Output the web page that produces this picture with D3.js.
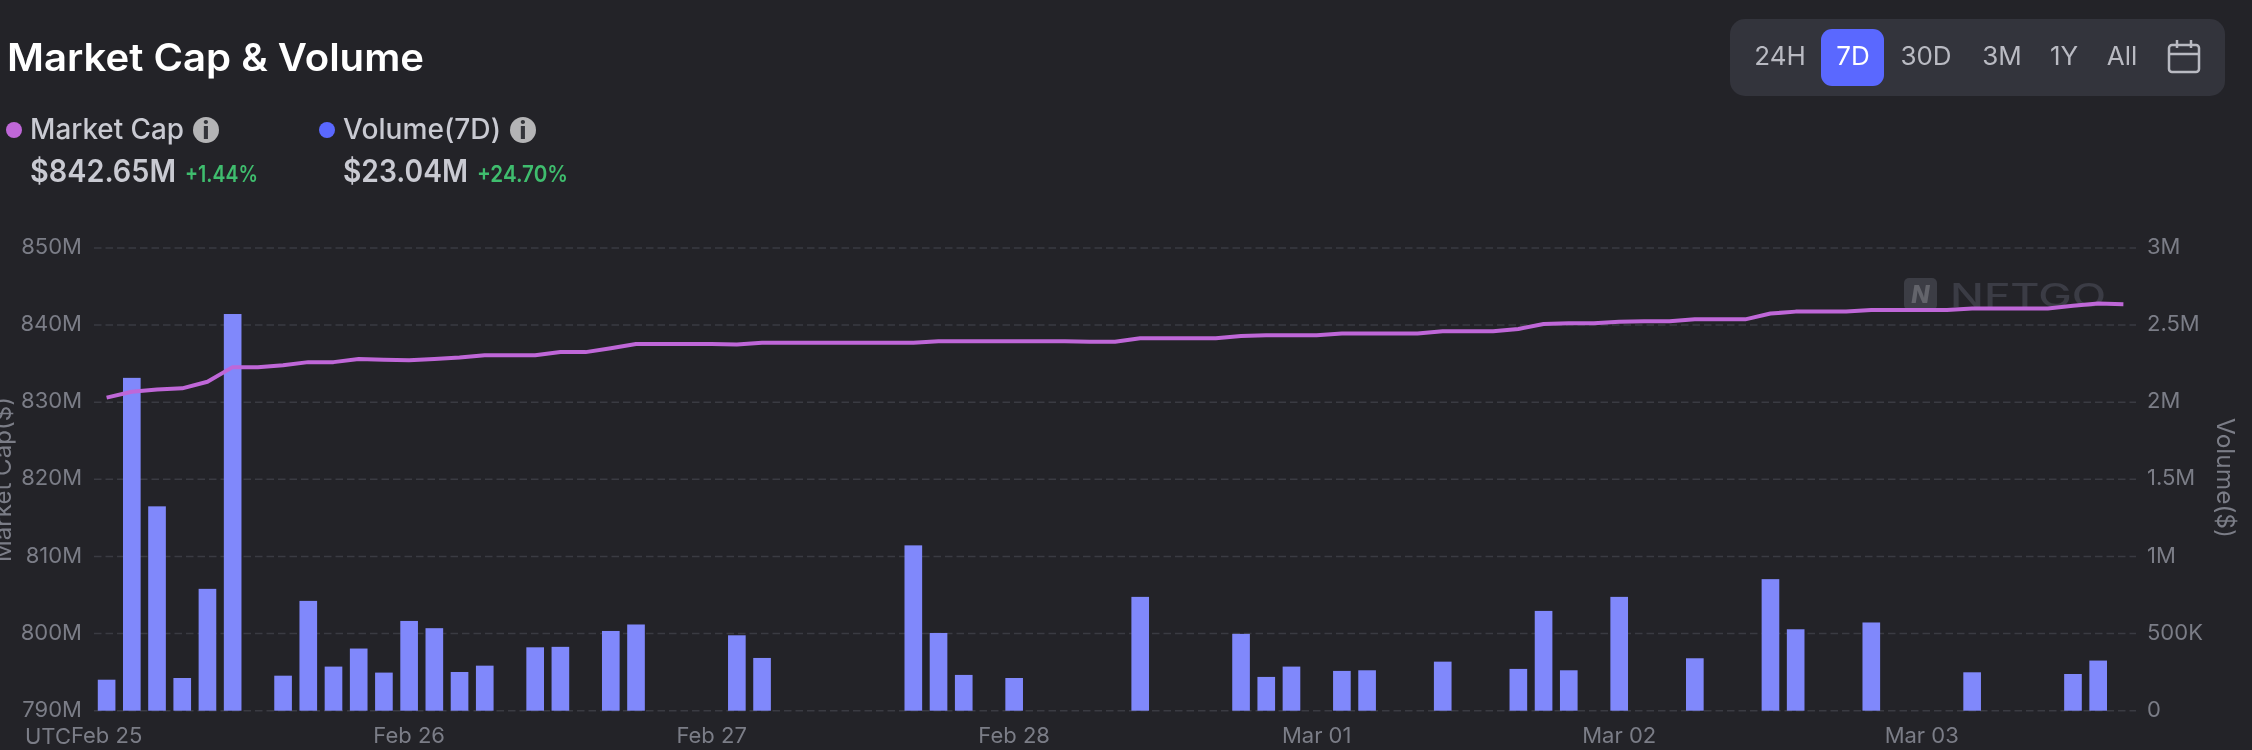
<!DOCTYPE html>
<html>
<head>
<meta charset="utf-8">
<script src="https://cdn.jsdelivr.net/npm/d3@7/dist/d3.min.js"></script>
<style>
html,body{margin:0;padding:0;background:#232328;overflow:hidden}
svg{display:block;filter:blur(0.6px)}
text{font-family:Inter,"Noto Sans",sans-serif}
</style>
</head>
<body>
<svg id="c" width="2252" height="750"></svg>
<script>
const marketCap = [830.6,831.35,831.65,831.8,832.65,834.55,834.55,834.8,835.2,835.2,835.6,835.5,835.45,835.6,835.8,836.1,836.1,836.1,836.5,836.5,
837.0,837.55,837.55,837.55,837.55,837.5,837.7,837.7,837.7,837.7,837.7,837.7,837.7,837.9,837.9,837.9,837.9,837.9,837.9,837.85,
837.85,838.3,838.3,838.3,838.3,838.6,838.7,838.7,838.7,838.9,838.9,838.9,838.9,839.2,839.2,839.2,839.5,840.15,840.25,840.25,
840.45,840.5,840.5,840.75,840.75,840.75,841.5,841.75,841.75,841.75,841.95,841.95,841.95,841.95,842.15,842.15,842.15,842.15,842.5,842.8,842.7];
const volume = [201,2158,1325,212,790,2572,0,227,712,286,403,247,582,535,251,292,0,411,414,0,
517,559,0,0,0,489,342,0,0,0,0,0,1072,504,232,0,212,0,0,0,
0,738,0,0,0,498,219,286,0,258,262,0,0,318,0,0,271,647,262,0,
738,0,0,340,0,0,853,528,0,0,572,0,0,0,249,0,0,0,238,325,0];
const dayLabels = ["Feb 25","Feb 26","Feb 27","Feb 28","Mar 01","Mar 02","Mar 03"];
const slotsPerDay = 12;
const capTicks = [790,800,810,820,830,840,850];
const volTicks = [0,500,1000,1500,2000,2500,3000];
const ranges = ["24H","7D","30D","3M","1Y","All"];

const svg = d3.select("#c");
const muted = "#7b7d87";
const slots = marketCap.map((_,i)=>i);
const x = d3.scaleBand().domain(slots).range([94,2136]).paddingInner(0.3).paddingOuter(0.15);
const yCap = d3.scaleLinear().domain([790,850]).range([710.7,248]);
const yVol = d3.scaleLinear().domain([0,3000]).range([710.7,248]);
const cx = i => x(i)+x.bandwidth()/2;

function T(s,px,py,size,fill,opt={}){
  const t = svg.append("text").attr("x",px).attr("y",py).attr("font-size",size).attr("fill",fill).text(s);
  if(opt.weight) t.attr("font-weight",opt.weight);
  if(opt.anchor) t.attr("text-anchor",opt.anchor);
  if(opt.len) t.attr("textLength",opt.len).attr("lengthAdjust","spacingAndGlyphs");
  return t;
}

// header
T("Market Cap & Volume",7,71,38,"#ffffff",{weight:600,len:417});
function legend(dotX,color,label,labelLen,iconX,value,valueLen,chg,chgX,chgLen){
  svg.append("circle").attr("cx",dotX).attr("cy",130).attr("r",8).attr("fill",color);
  T(label,dotX+16,139,28,"#c9cad2",{weight:500,len:labelLen});
  svg.append("circle").attr("cx",iconX).attr("cy",130).attr("r",13).attr("fill","#b4b4b6");
  svg.append("text").attr("x",iconX).attr("y",139).attr("text-anchor","middle").attr("font-size",24).attr("font-weight",800).attr("fill","#33343a").text("i");
  T(value,dotX+16,182,31,"#c9cad2",{weight:600,len:valueLen});
  T(chg,chgX,182,23,"#3fbd6e",{weight:600,len:chgLen});
}
legend(14,"#bf67d8","Market Cap",154,206,"$842.65M",146,"+1.44%",185,73);
legend(327,"#5a68ff","Volume(7D)",158,523,"$23.04M",125,"+24.70%",477,91);

// range selector
svg.append("rect").attr("x",1730).attr("y",19).attr("width",495).attr("height",77).attr("rx",15).attr("fill","#33343c");
svg.append("rect").attr("x",1821).attr("y",29).attr("width",63).attr("height",57).attr("rx",11).attr("fill","#5a68ff");
const rangeX = d3.scaleOrdinal().domain(ranges).range([1780,1853,1926,2002,2064,2122]);
ranges.forEach(r=>T(r,rangeX(r),65,26,r==="7D"?"#ffffff":"#b9bac2",{anchor:"middle"}));
const cal = svg.append("g").attr("fill","none").attr("stroke","#b9bac2").attr("stroke-width",2.5);
cal.append("rect").attr("x",2169).attr("y",45).attr("width",30).attr("height",27).attr("rx",3);
cal.append("line").attr("x1",2169).attr("x2",2199).attr("y1",54).attr("y2",54);
cal.append("line").attr("x1",2177).attr("x2",2177).attr("y1",40).attr("y2",48);
cal.append("line").attr("x1",2191).attr("x2",2191).attr("y1",40).attr("y2",48);

// grid
svg.append("g").selectAll("line").data(capTicks).join("line")
  .attr("x1",94).attr("x2",2136).attr("y1",d=>yCap(d)).attr("y2",d=>yCap(d))
  .attr("stroke","#3a3b42").attr("stroke-width",1.5).attr("stroke-dasharray","7.5 4");

// watermark
svg.append("rect").attr("x",1904).attr("y",278).attr("width",33).attr("height",32).attr("rx",5).attr("fill","#3c3d45");
svg.append("text").attr("x",1920.5).attr("y",303).attr("text-anchor","middle").attr("font-size",24).attr("font-weight",800).attr("font-style","italic").attr("fill","#63646b").text("N");
T("NFTGO",1950,307,32,"#3b3c45",{weight:500,len:156});

// bars
svg.append("g").selectAll("rect").data(slots.filter(i=>volume[i]>0)).join("rect")
  .attr("x",i=>x(i)).attr("width",x.bandwidth())
  .attr("y",i=>yVol(volume[i])).attr("height",i=>yVol(0)-yVol(volume[i]))
  .attr("fill","#8088fb");

// line
svg.append("path").datum(slots)
  .attr("d",d3.line().x(cx).y(i=>yCap(marketCap[i])))
  .attr("fill","none").attr("stroke","#bf67d8").attr("stroke-width",4).attr("stroke-linejoin","round");

// axes
function styleAxis(g){
  g.select(".domain").remove();
  g.selectAll(".tick line").remove();
  g.selectAll("text").attr("fill",muted).attr("font-size",22).attr("font-family","Inter,'Noto Sans',sans-serif");
}
function lift(g){ g.selectAll("text").attr("transform","translate(0,-1.5)"); }
svg.append("g").attr("transform","translate(94,0)")
  .call(d3.axisLeft(yCap).tickValues(capTicks).tickFormat(d=>d+"M").tickSize(0).tickPadding(12)).call(styleAxis).call(lift);
const fmtVol = d => d===0?"0":d<1000?d+"K":(d/1000)+"M";
svg.append("g").attr("transform","translate(2136,0)")
  .call(d3.axisRight(yVol).tickValues(volTicks).tickFormat(fmtVol).tickSize(0).tickPadding(11)).call(styleAxis).call(lift);
const daySlots = dayLabels.map((_,i)=>i*slotsPerDay);
svg.append("g").attr("transform","translate(0,711)")
  .call(d3.axisBottom(x).tickValues(daySlots).tickFormat(i=>dayLabels[i/slotsPerDay]).tickSize(0).tickPadding(16)).call(styleAxis);
T("UTC",25,744,22,muted);

// axis titles
T("Market Cap($)",0,0,24,muted,{anchor:"middle",len:165}).attr("transform","translate(11,479.5) rotate(-90)").attr("x",0).attr("y",0);
T("Volume($)",0,0,24,muted,{anchor:"middle",len:120}).attr("transform","translate(2217,478) rotate(90)").attr("x",0).attr("y",0);
</script>
</body>
</html>
